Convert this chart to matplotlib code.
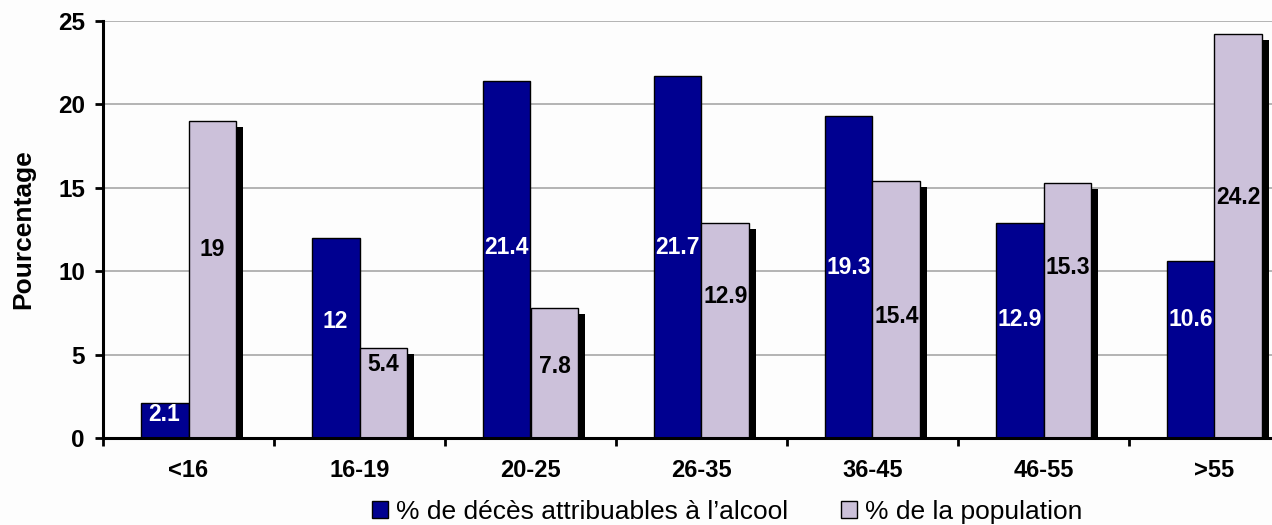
import numpy as np
import matplotlib
matplotlib.use('Agg')
import matplotlib.pyplot as plt
import matplotlib.transforms as mtransforms

categories = ['<16', '16-19', '20-25', '26-35', '36-45', '46-55', '>55']
deces = [2.1, 12, 21.4, 21.7, 19.3, 12.9, 10.6]
population = [19, 5.4, 7.8, 12.9, 15.4, 15.3, 24.2]
legend_labels = ['% de décès attribuables à l\u2019alcool', '% de la population']

# heights (data units) where the value labels sit
deces_label_y = [1.4, 7.0, 11.4, 11.4, 10.2, 7.1, 7.1]
population_label_y = [11.3, 4.4, 4.3, 8.5, 7.3, 10.2, 14.4]

plt.rcParams['font.family'] = ['Liberation Sans', 'DejaVu Sans']

fig = plt.figure(figsize=(12.72, 5.25), dpi=100)
fig.patch.set_facecolor('#fdfdfd')
ax = fig.add_axes([103/1272, 87/525, 1197/1272, 417/525])
ax.set_facecolor('#fdfdfd')

x = np.arange(len(categories))
w = 0.28
dark = '#000090'
light = '#ccc1da'

# shadow behind the light bars
shadow_tr = mtransforms.offset_copy(ax.transData, fig=fig, x=7, y=-6, units='dots')
ax.bar(x + w/2, population, w, color='black', transform=shadow_tr, zorder=2, clip_on=True)

b1 = ax.bar(x - w/2, deces, w, color=dark, edgecolor='black', linewidth=1, zorder=3,
            label=legend_labels[0])
b2 = ax.bar(x + w/2, population, w, color=light, edgecolor='black', linewidth=1, zorder=3,
            label=legend_labels[1])

for i in range(len(categories)):
    ax.text(x[i] - w/2, deces_label_y[i], f'{deces[i]:g}', color='white', fontsize=16.5,
            fontweight='bold', ha='center', va='center', zorder=5)
    ax.text(x[i] + w/2, population_label_y[i], f'{population[i]:g}', color='black', fontsize=16.5,
            fontweight='bold', ha='center', va='center', zorder=5)

ax.set_xlim(-0.5, len(categories) - 0.5)
ax.set_ylim(0, 25)
ax.set_yticks([0, 5, 10, 15, 20, 25])
ax.yaxis.grid(True, color='#a0a0a0', linewidth=1.1)
ax.set_axisbelow(True)

ax.set_xticks(x)
ax.set_xticklabels(categories, fontsize=17, fontweight='bold')
ax.set_xticks(np.arange(len(categories) + 1) - 0.5, minor=True)
ax.tick_params(axis='x', which='major', length=0, pad=15)
ax.tick_params(axis='x', which='minor', length=6, width=2, direction='out')
ax.tick_params(axis='y', length=6, width=2, direction='out', labelsize=17.5, pad=7)
for lab in ax.get_yticklabels():
    lab.set_fontweight('bold')

for s in ['top', 'right']:
    ax.spines[s].set_visible(False)
ax.spines['left'].set_linewidth(2.2)
ax.spines['bottom'].set_linewidth(2.2)
ax.spines['bottom'].set_zorder(4)

ax.set_ylabel('Pourcentage', fontsize=19, fontweight='bold', labelpad=16)

fig.legend(handles=[b1, b2], labels=legend_labels, loc='center', bbox_to_anchor=(727/1272, 1 - 512/525),
           ncol=2, frameon=False, fontsize=19, handlelength=0.6, handleheight=0.6,
           handletextpad=0.3, columnspacing=2.0)

plt.savefig('out.png', dpi=100, facecolor=fig.get_facecolor())
